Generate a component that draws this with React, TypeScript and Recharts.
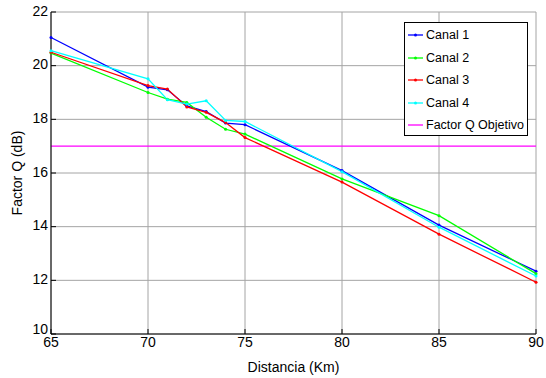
import {
  LineChart,
  Line,
  XAxis,
  YAxis,
  CartesianGrid,
  ReferenceLine,
} from "recharts";

// Q factor per channel vs. link distance
const distancia = [65, 70, 71, 72, 73, 74, 75, 80, 85, 90];
const canal1 = [21.05, 19.2, 19.1, 18.5, 18.29, 17.86, 17.8, 16.09, 14.06, 12.34];
const canal2 = [20.47, 19.0, 18.75, 18.63, 18.08, 17.63, 17.45, 15.78, 14.41, 12.25];
const canal3 = [20.5, 19.26, 19.13, 18.46, 18.26, 17.88, 17.32, 15.66, 13.72, 11.93];
const canal4 = [20.56, 19.51, 18.73, 18.57, 18.69, 17.96, 17.92, 16.05, 13.98, 12.16];
const qObjetivo = 17;

const xTicks = [65, 70, 75, 80, 85, 90];
const yTicks = [10, 12, 14, 16, 18, 20, 22];

const series = [
  { key: "canal1", name: "Canal 1", color: "#0000ff", values: canal1 },
  { key: "canal2", name: "Canal 2", color: "#00ff00", values: canal2 },
  { key: "canal3", name: "Canal 3", color: "#ff0000", values: canal3 },
  { key: "canal4", name: "Canal 4", color: "#00ffff", values: canal4 },
];

const data = distancia.map((d, i) => {
  const row: any = { d };
  series.forEach((s) => {
    row[s.key] = s.values[i];
  });
  return row;
});

const FONT = '"Liberation Sans", Arial, sans-serif';
const tickStyle = { fontSize: 14, fill: "#000", fontFamily: FONT };

// y tick labels; the bottom one sits a bit higher, clear of the x labels
const YTick = (props: any) => {
  const { x, y, payload } = props;
  const dy = payload.value === 10 ? -4 : 0;
  return (
    <text
      x={x}
      y={y + dy}
      textAnchor="end"
      dominantBaseline="middle"
      style={tickStyle}
    >
      {payload.value}
    </text>
  );
};

const legendItems = [
  ...series.map((s) => ({ name: s.name, color: s.color, dot: true })),
  { name: "Factor Q Objetivo", color: "#ff00ff", dot: false },
];

const LegendBox = () => (
  <div
    style={{
      position: "absolute",
      left: 404,
      top: 22,
      width: 122,
      height: 112,
      border: "1px solid #000",
      background: "#fff",
      fontFamily: FONT,
      fontSize: 12.5,
      color: "#000",
    }}
  >
    {legendItems.map((it, i) => (
      <div
        key={it.name}
        style={{
          position: "absolute",
          left: 3,
          top: 12 + i * 22.5 - 8,
          height: 16,
          display: "flex",
          alignItems: "center",
          whiteSpace: "nowrap",
        }}
      >
        <svg width={16} height={16} style={{ marginRight: 2 }}>
          <line x1={0} y1={8} x2={15} y2={8} stroke={it.color} strokeWidth={1.3} />
          {it.dot && <circle cx={7.5} cy={8} r={1.5} fill={it.color} />}
        </svg>
        <span>{it.name}</span>
      </div>
    ))}
  </div>
);

export default function App() {
  return (
    <div style={{ position: "absolute", left: 0, top: 0, width: 546, height: 378, background: "#fff" }}>
      <LineChart
        width={546}
        height={378}
        data={data}
        margin={{ top: 12, right: 10, bottom: 0, left: 0 }}
      >
        <CartesianGrid stroke="#a4a4a4" strokeWidth={1} />
        <XAxis
          dataKey="d"
          type="number"
          domain={[65, 90]}
          ticks={xTicks}
          height={44}
          stroke="#000"
          tickSize={-5}
          tickMargin={8}
          tick={tickStyle}
          label={{
            value: "Distancia (Km)",
            position: "insideBottom",
            offset: 6,
            style: { fontSize: 14, fill: "#000", fontFamily: FONT },
          }}
        />
        <XAxis
          xAxisId="top"
          orientation="top"
          type="number"
          domain={[65, 90]}
          ticks={xTicks}
          height={0}
          stroke="#000"
          tickSize={-5}
          tickFormatter={() => ""}
        />
        <YAxis
          type="number"
          domain={[10, 22]}
          ticks={yTicks}
          width={51}
          stroke="#000"
          tickSize={-5}
          tickMargin={8}
          tick={<YTick />}
          label={{
            content: () => (
              <text
                x={18}
                y={173}
                transform="rotate(-90 18 173)"
                textAnchor="middle"
                dominantBaseline="middle"
                style={{ fontSize: 14, fill: "#000", fontFamily: FONT }}
              >
                Factor Q (dB)
              </text>
            ),
          }}
        />
        <YAxis
          yAxisId="right"
          orientation="right"
          type="number"
          domain={[10, 22]}
          ticks={yTicks}
          width={0}
          stroke="#000"
          tickSize={-5}
          tickFormatter={() => ""}
        />
        <ReferenceLine y={qObjetivo} stroke="#ff00ff" strokeWidth={1.3} />
        {series.map((s) => (
          <Line
            key={s.key}
            dataKey={s.key}
            name={s.name}
            type="linear"
            stroke={s.color}
            strokeWidth={1.3}
            dot={{ r: 1.5, fill: s.color, stroke: s.color, strokeWidth: 0 }}
            activeDot={false}
            isAnimationActive={false}
          />
        ))}
      </LineChart>
      <LegendBox />
    </div>
  );
}
